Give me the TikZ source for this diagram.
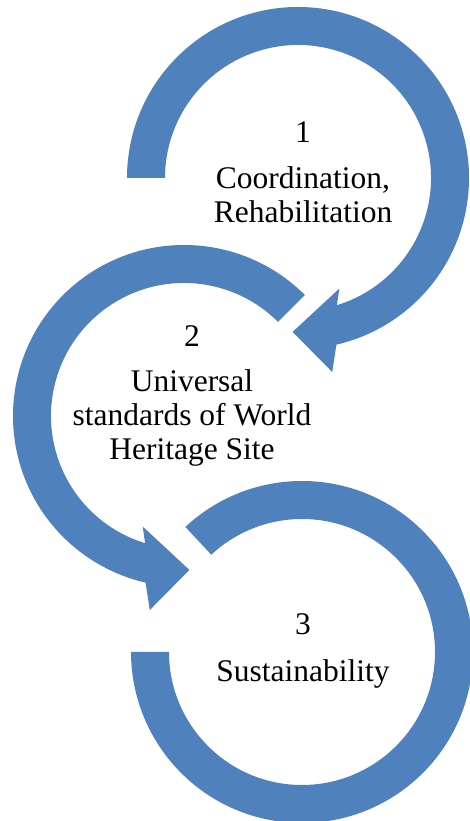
\documentclass[tikz,border=0pt]{standalone}
\usepackage{fontspec}
\setmainfont{Liberation Serif}
\usepackage{xcolor}
\usetikzlibrary{positioning}
\definecolor{ringblue}{HTML}{4F81BD}

\begin{document}
\begin{tikzpicture}[x=1pt, y=1pt,
	ring/.style={fill=ringblue, draw=none},
	ringtext/.style={align=center, anchor=base, inner sep=0pt, font=\fontsize{31.5}{34}\selectfont}]
	\useasboundingbox (0,0) rectangle (469,821);
	\coordinate (c1) at (298,643);
	\coordinate (c2) at (184,405);
	\coordinate (c3) at (302,169);
	\fill[ring, shift={(c1)}] (180:171) arc[start angle=180, end angle=-77, radius=171pt] -- (-80:197) -- (-92:154) -- (-69.5:118) -- (-73:133) arc[start angle=-73, end angle=180, radius=133pt] -- cycle;
	\fill[ring, shift={(c2)}] (45:171) arc[start angle=45, end angle=257, radius=171pt] -- (260:197) -- (272:154) -- (249.5:118) -- (253:133) arc[start angle=253, end angle=45, radius=133pt] -- cycle;
	\fill[ring, shift={(c3)}] (133:171) arc[start angle=133, end angle=-180, radius=171pt] -- (180:133) arc[start angle=180, end angle=493, radius=133pt] -- cycle;
	\node[ringtext] (t1) at (303,598) {1\\[12pt]Coordination,\\Rehabilitation};
	\node[ringtext] (t2) at (192,361) {2\\[11pt]Universal\\standards of World\\Heritage Site};
	\node[ringtext] (t3) at (303,139) {3\\[13pt]Sustainability};
\end{tikzpicture}
\end{document}
